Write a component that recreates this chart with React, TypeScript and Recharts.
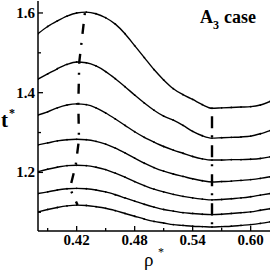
import React from "react";
import { ComposedChart, Line, XAxis, YAxis } from "recharts";

const rho = [0.38, 0.39, 0.4, 0.41, 0.42, 0.43, 0.44, 0.45, 0.46, 0.47, 0.48, 0.49, 0.5, 0.51, 0.52, 0.53, 0.54, 0.55, 0.56, 0.57, 0.58, 0.59, 0.6, 0.61, 0.62];

const t1 = [1.548, 1.566, 1.58, 1.592, 1.6, 1.602, 1.598, 1.588, 1.572, 1.548, 1.518, 1.488, 1.458, 1.432, 1.41, 1.395, 1.383, 1.37, 1.361, 1.362, 1.363, 1.364, 1.365, 1.369, 1.378];
const t2 = [1.434, 1.447, 1.46, 1.471, 1.477, 1.475, 1.467, 1.453, 1.435, 1.415, 1.394, 1.374, 1.356, 1.341, 1.331, 1.318, 1.303, 1.292, 1.286, 1.287, 1.288, 1.289, 1.291, 1.297, 1.305];
const t3 = [1.344, 1.352, 1.362, 1.369, 1.372, 1.37, 1.362, 1.349, 1.334, 1.318, 1.302, 1.288, 1.276, 1.265, 1.256, 1.248, 1.24, 1.234, 1.231, 1.231, 1.232, 1.232, 1.233, 1.235, 1.239];
const t4 = [1.269, 1.274, 1.279, 1.282, 1.283, 1.282, 1.278, 1.271, 1.261, 1.249, 1.236, 1.223, 1.212, 1.203, 1.196, 1.19, 1.184, 1.179, 1.176, 1.177, 1.178, 1.18, 1.182, 1.185, 1.189];
const t5 = [1.202, 1.208, 1.213, 1.217, 1.218, 1.217, 1.213, 1.207, 1.198, 1.188, 1.177, 1.167, 1.158, 1.151, 1.145, 1.14, 1.136, 1.133, 1.131, 1.132, 1.134, 1.136, 1.139, 1.143, 1.147];
const t6 = [1.147, 1.151, 1.156, 1.159, 1.16, 1.159, 1.156, 1.151, 1.144, 1.136, 1.128, 1.12, 1.113, 1.107, 1.103, 1.099, 1.097, 1.095, 1.094, 1.095, 1.097, 1.099, 1.101, 1.105, 1.109];
const t7 = [1.101, 1.107, 1.112, 1.116, 1.118, 1.117, 1.114, 1.11, 1.104, 1.097, 1.09, 1.083, 1.077, 1.073, 1.069, 1.067, 1.065, 1.064, 1.063, 1.064, 1.065, 1.067, 1.069, 1.072, 1.076];

// line through the maxima (bottom to top)
const maxRho = [0.421, 0.413, 0.419, 0.4224, 0.4217, 0.4227, 0.4286];
const maxT = [1.118, 1.16, 1.218, 1.283, 1.372, 1.477, 1.602];
// line through the minima (top to bottom)
const minRho = [0.56, 0.56];
const minT = [1.361, 1.063];

const xTicks = [0.39, 0.42, 0.45, 0.48, 0.51, 0.54, 0.57, 0.6];
const xMajor = [0.42, 0.48, 0.54, 0.6];
const xLabels = ["0.42", "0.48", "0.54", "0.60"];
const yTicks = [1.1, 1.2, 1.3, 1.4, 1.5, 1.6];
const yMajor = [1.2, 1.4, 1.6];
const yLabels = ["1.2", "1.4", "1.6"];

const curves = [t1, t2, t3, t4, t5, t6, t7].map((ts) => rho.map((r, i) => ({ rho: r, t: ts[i] })));
const maxLine = maxRho.map((r, i) => ({ rho: r, t: maxT[i] }));
const minLine = minRho.map((r, i) => ({ rho: r, t: minT[i] }));

const FONT = "'Liberation Serif', 'Times New Roman', serif";

const isIn = (arr: number[], v: number) => arr.findIndex((a) => Math.abs(a - v) < 1e-6);

const BottomTick = (p: any) => {
  const { x, y, payload } = p;
  const k = isIn(xMajor, payload.value);
  const len = k >= 0 ? 5 : 3;
  return (
    <g>
      <line x1={x} x2={x} y1={y} y2={y - len} stroke="#000" strokeWidth={1.3} />
      {k >= 0 && (
        <text x={x} y={y + 14} textAnchor="middle" fontFamily={FONT} fontWeight="bold" fontSize={15} fill="#000">
          {xLabels[k]}
        </text>
      )}
    </g>
  );
};
const TopTick = (p: any) => {
  const { x, y, payload } = p;
  const k = isIn(xMajor, payload.value);
  const len = k >= 0 ? 5 : 3;
  return <line x1={x} x2={x} y1={y} y2={y + len} stroke="#000" strokeWidth={1.3} />;
};
const LeftTick = (p: any) => {
  const { x, y, payload } = p;
  const k = isIn(yMajor, payload.value);
  const len = k >= 0 ? 5 : 3;
  return (
    <g>
      <line x1={x} x2={x + len} y1={y} y2={y} stroke="#000" strokeWidth={1.3} />
      {k >= 0 && (
        <text x={x - 3} y={y + 5} textAnchor="end" fontFamily={FONT} fontWeight="bold" fontSize={15} fill="#000">
          {yLabels[k]}
        </text>
      )}
    </g>
  );
};
const RightTick = (p: any) => {
  const { x, y, payload } = p;
  const k = isIn(yMajor, payload.value);
  const len = k >= 0 ? 5 : 3;
  return <line x1={x} x2={x - len} y1={y} y2={y} stroke="#000" strokeWidth={1.3} />;
};

export default function App() {
  const axisLine = { stroke: "#000", strokeWidth: 1.5 };
  return (
    <div style={{ position: "absolute", left: 0, top: 0, width: 273, height: 273, background: "#fff" }}>
      <ComposedChart width={273} height={273} margin={{ top: 1, right: 3, bottom: 0, left: 0 }}>
        <XAxis xAxisId="b" dataKey="rho" type="number" domain={[0.38, 0.62]} ticks={xTicks} allowDataOverflow
          height={42} axisLine={axisLine} tickLine={false} tickSize={0} tickMargin={0} tick={<BottomTick />} interval={0} />
        <XAxis xAxisId="t" orientation="top" dataKey="rho" type="number" domain={[0.38, 0.62]} ticks={xTicks} allowDataOverflow
          height={0} axisLine={axisLine} tickLine={false} tickSize={0} tickMargin={0} tick={<TopTick />} interval={0} />
        <YAxis yAxisId="l" dataKey="t" type="number" domain={[1.053, 1.63]} ticks={yTicks} allowDataOverflow
          width={38} axisLine={axisLine} tickLine={false} tickSize={0} tickMargin={0} tick={<LeftTick />} interval={0} />
        <YAxis yAxisId="r" orientation="right" dataKey="t" type="number" domain={[1.053, 1.63]} ticks={yTicks} allowDataOverflow
          width={0} axisLine={axisLine} tickLine={false} tickSize={0} tickMargin={0} tick={<RightTick />} interval={0} />
        {curves.map((d, i) => (
          <Line key={i} xAxisId="b" yAxisId="l" data={d} dataKey="t" type="monotone" stroke="#000" strokeWidth={1.4}
            dot={{ r: 0.9, fill: "#000", stroke: "none" }} isAnimationActive={false} />
        ))}
        <Line xAxisId="b" yAxisId="l" data={maxLine} dataKey="t" type="linear" stroke="#000" strokeWidth={2.4}
          strokeDasharray="10 9 2 9" strokeDashoffset={6} dot={false} isAnimationActive={false} />
        <Line xAxisId="b" yAxisId="l" data={minLine} dataKey="t" type="linear" stroke="#000" strokeWidth={2.4}
          strokeDasharray="12 7 2 8" strokeDashoffset={21} dot={false} isAnimationActive={false} />
      </ComposedChart>
      <svg width={273} height={273} style={{ position: "absolute", left: 0, top: 0, pointerEvents: "none" }}>
        <text x={1} y={127} fontFamily={FONT} fontWeight="bold" fontSize={21} fill="#000">t</text>
        <text x={9} y={117} fontFamily={FONT} fontWeight="bold" fontSize={12} fill="#000">*</text>
        <text x={144} y={266} fontFamily={FONT} fontSize={19} fill="#000">ρ</text>
        <text x={158} y={256} fontFamily={FONT} fontSize={12} fill="#000">*</text>
        <text x={200} y={23} fontFamily={FONT} fontWeight="bold" fontSize={18} fill="#000">
          A<tspan fontSize={12} dy={6}>3</tspan><tspan dy={-6} dx={5}>case</tspan>
        </text>
      </svg>
    </div>
  );
}
